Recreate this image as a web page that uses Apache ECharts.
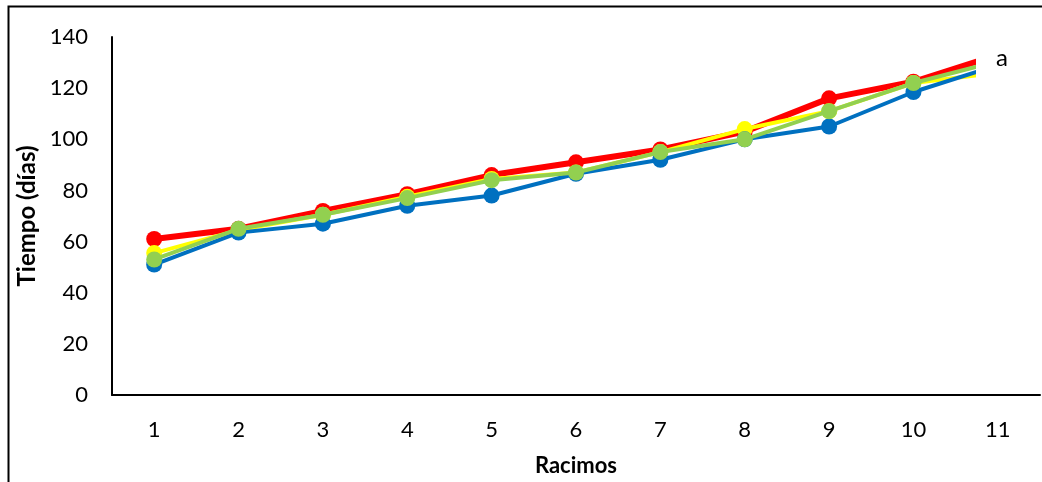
<!DOCTYPE html>
<html lang="es" style="height: 100%">
<head>
  <meta charset="utf-8">
</head>
<body style="height: 100%; margin: 0; background: #fff">
  <div id="container" style="width: 1042px; height: 482px"></div>

  <script type="text/javascript" src="https://cdn.jsdelivr.net/npm/echarts@6/dist/echarts.min.js"></script>

  <script type="text/javascript">
    var dom = document.getElementById('container');
    var myChart = echarts.init(dom, null, { renderer: 'canvas' });

    // racimos 1..11 (11 queda fuera del recorte de la imagen original)
    const racimos = ['1', '2', '3', '4', '5', '6', '7', '8', '9', '10', '11'];
    const serieAzul = [51, 63.5, 67, 74, 78, 86.5, 92, 100, 105, 118.5, 129];
    const serieRoja = [61, 65, 72, 78.5, 86, 91, 96, 103, 116, 122.5, 133];
    const serieAmarilla = [55.5, 64.5, 70.5, 77.5, 84.5, 87, 95, 104, 111, 122, 126];
    const serieVerde = [53, 65, 70.5, 77, 84, 87, 95, 100, 111, 122, 130.5];

    const font = 'Lato';

    function linea(name, data, color, width, z) {
      return {
        name: name,
        type: 'line',
        data: data,
        z: z,
        symbol: 'circle',
        symbolSize: 16,
        showAllSymbol: true,
        lineStyle: { color: color, width: width },
        itemStyle: { color: color },
        emphasis: { disabled: true },
        animation: false
      };
    }

    var option = {
      backgroundColor: '#fff',
      grid: { left: 112, right: 2, top: 37, bottom: 85 },
      xAxis: {
        type: 'category',
        data: racimos,
        boundaryGap: true,
        name: 'Racimos',
        nameLocation: 'middle',
        nameGap: 60,
        nameTextStyle: { fontFamily: font, fontSize: 22, fontWeight: 'bold', color: '#000' },
        axisLine: { lineStyle: { color: '#000', width: 2 } },
        axisTick: { show: false },
        axisLabel: { fontFamily: font, fontSize: 22, color: '#000', margin: 24 }
      },
      yAxis: {
        type: 'value',
        min: 0,
        max: 140,
        interval: 20,
        name: 'Tiempo (días)',
        nameLocation: 'middle',
        nameGap: 72,
        nameTextStyle: { fontFamily: font, fontSize: 24, fontWeight: 'bold', color: '#000' },
        axisLine: { show: true, lineStyle: { color: '#000', width: 2 } },
        axisTick: { show: false },
        splitLine: { show: false },
        axisLabel: { fontFamily: font, fontSize: 22, color: '#000', margin: 24 }
      },
      series: [
        linea('Rojo', serieRoja, '#ff0000', 6, 2),
        linea('Amarillo', serieAmarilla, '#ffff00', 4, 3),
        linea('Azul', serieAzul, '#0070c0', 4, 4),
        linea('Verde', serieVerde, '#92d050', 4, 5)
      ],
      graphic: [
        {
          // recorte del área de trazado como en la figura original
          type: 'rect',
          zlevel: 5,
          z: 100,
          left: 976,
          top: 20,
          shape: { width: 70, height: 374 },
          style: { fill: '#ffffff', stroke: null }
        },
        {
          type: 'text',
          zlevel: 5,
          z: 101,
          left: 996,
          top: 46,
          style: { text: 'a', font: '24px ' + font, fill: '#000' }
        },
        {
          type: 'rect',
          zlevel: 5,
          z: 101,
          left: 6,
          top: 4,
          shape: { width: 1100, height: 600 },
          style: { fill: 'none', stroke: '#000', lineWidth: 2 }
        }
      ]
    };

    myChart.setOption(option);
    window.addEventListener('resize', myChart.resize);
  </script>
</body>
</html>
